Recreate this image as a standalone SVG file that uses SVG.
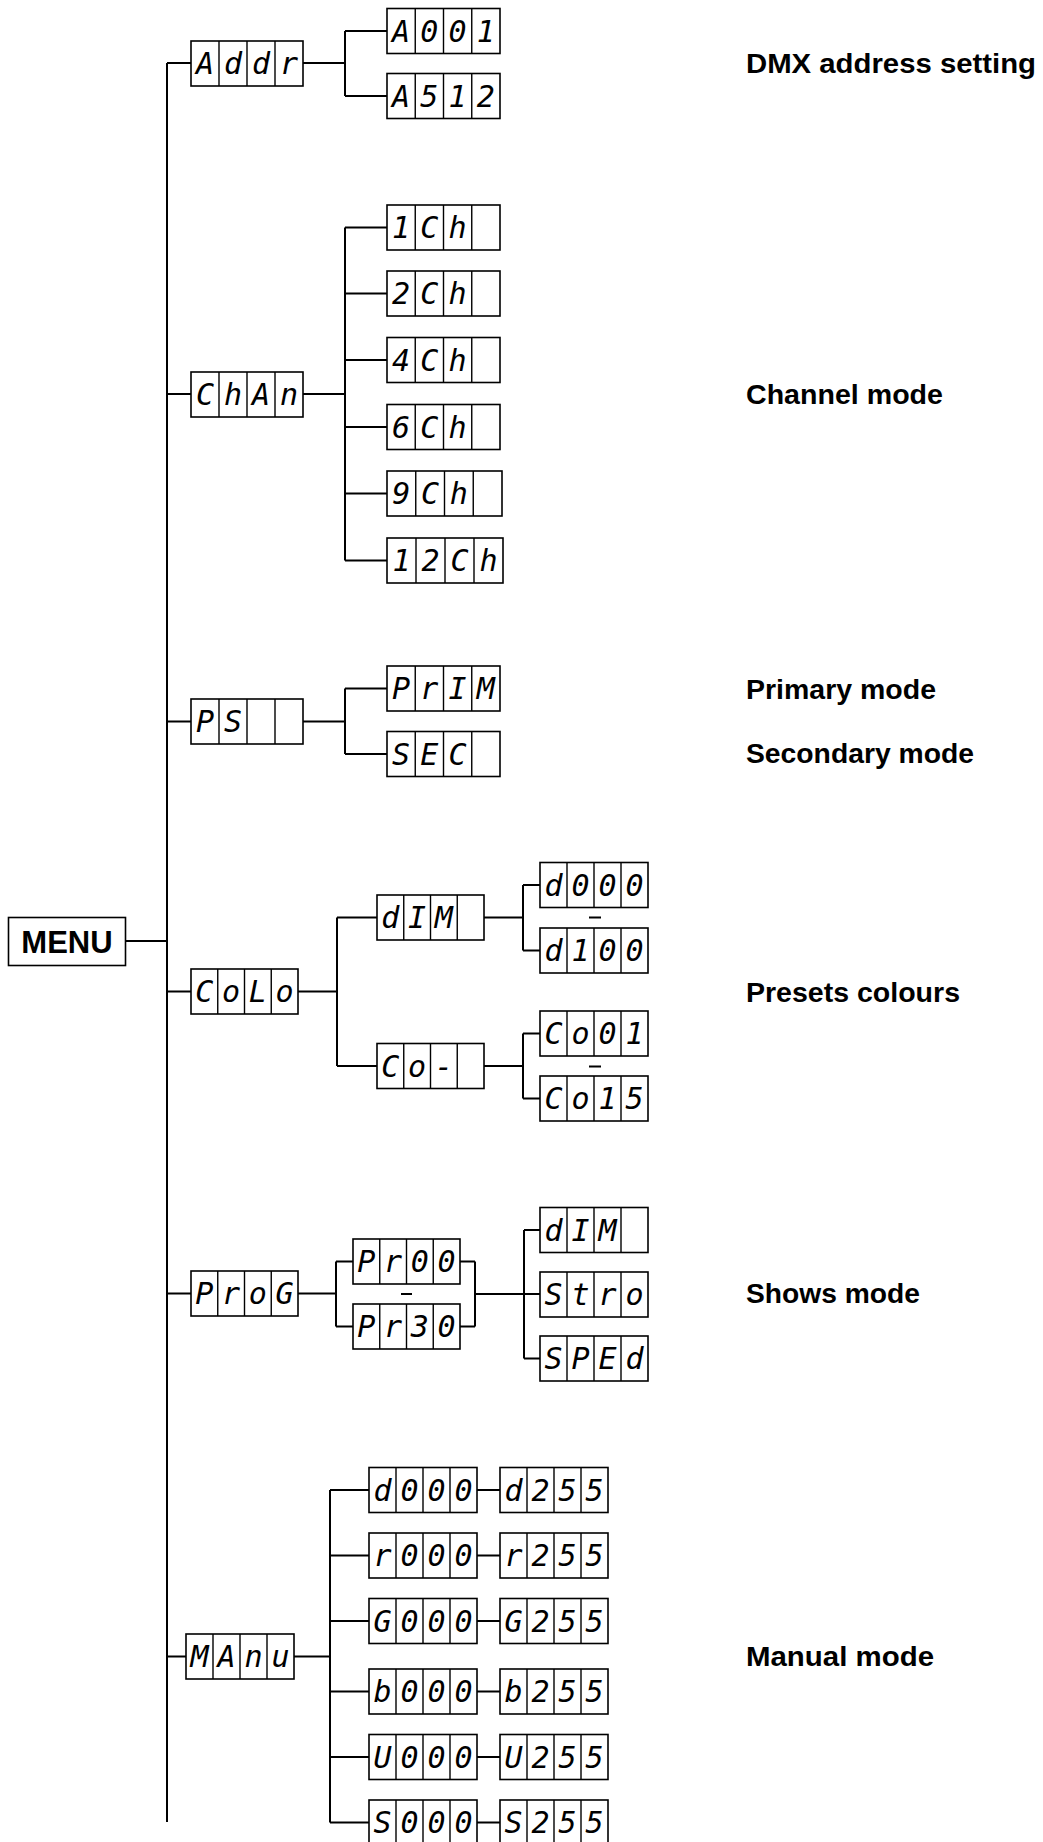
<svg xmlns="http://www.w3.org/2000/svg" width="1043" height="1842" viewBox="0 0 1043 1842">
<style>
.box{fill:#fff;stroke:#000;stroke-width:1.6}
.dv{stroke:#000;stroke-width:1.4;fill:none}
.seg{font-family:"DejaVu Sans Mono","Liberation Mono",monospace;font-style:italic;font-size:30px;text-anchor:middle;fill:#000}
.con{stroke:#000;stroke-width:2;fill:none}
.lbl{font-family:"Liberation Sans",Arial,sans-serif;font-weight:bold;font-size:27px;fill:#000}
.menu{font-family:"Liberation Sans",Arial,sans-serif;font-weight:bold;font-size:31px;text-anchor:middle;fill:#000}
</style>
<rect width="1043" height="1842" fill="#fff"/>
<g id="connectors" class="con">
<path d="M167 63V1822M126 941H167M167 63H191M303 63H345M345 31V96M345 31H387M345 96H387"/>
<path d="M167 394H191M303 394H345M345 227.5V560.5M345 227.5H387M345 293.5H387M345 360H387M345 427H387M345 493.5H387M345 560.5H387"/>
<path d="M167 721.5H191M303 721.5H345M345 688.5V754M345 688.5H387M345 754H387"/>
<path d="M167 991.5H191M298 991.5H337M337 917.5V1066M337 917.5H377M337 1066H377M484 917.5H523M523 885V950.5M523 885H540M523 950.5H540M484 1066H523M523 1033.5V1098.5M523 1033.5H540M523 1098.5H540"/>
<path d="M589 917.5H601M589 1066.5H601M401 1294H412"/>
<path d="M167 1293.5H191M298 1293.5H336M336 1261.5V1326.5M336 1261.5H353M336 1326.5H353M460 1261.5H475M475 1261.5V1326.5M460 1326.5H475M475 1294H540M524 1230V1358.5M524 1230H540M524 1358.5H540"/>
<path d="M167 1656.5H186M294 1656.5H330M330 1490V1822.5M330 1490H369M330 1555.5H369M330 1621H369M330 1691.5H369M330 1757H369M330 1822.5H369M477 1490H500M477 1555.5H500M477 1621H500M477 1691.5H500M477 1757H500M477 1822.5H500"/>
</g>
<g id="menu"><rect class="box" x="8.5" y="917.5" width="117" height="48" stroke-width="2"/><text class="menu" x="67" y="953">MENU</text></g>

<g id="addr"><rect class="box" x="191" y="41" width="112" height="45"/><path class="dv" d="M219 41v45M247 41v45M275 41v45"/><text class="seg" x="205 233 261 289" y="74">Addr</text></g>
<g id="a001"><rect class="box" x="387" y="8.5" width="113" height="45"/><path class="dv" d="M415.25 8.5v45M443.5 8.5v45M471.75 8.5v45"/><text class="seg" x="401.1 429.4 457.6 485.9" y="41.5">A001</text></g>
<g id="a512"><rect class="box" x="387" y="73.5" width="113" height="45"/><path class="dv" d="M415.25 73.5v45M443.5 73.5v45M471.75 73.5v45"/><text class="seg" x="401.1 429.4 457.6 485.9" y="106.5">A512</text></g>

<g id="chan"><rect class="box" x="191" y="372" width="112" height="45"/><path class="dv" d="M219 372v45M247 372v45M275 372v45"/><text class="seg" x="205 233 261 289" y="405">ChAn</text></g>
<g id="ch1"><rect class="box" x="387" y="205" width="113" height="45"/><path class="dv" d="M415.25 205v45M443.5 205v45M471.75 205v45"/><text class="seg" x="401.1 429.4 457.6" y="238">1Ch</text></g>
<g id="ch2"><rect class="box" x="387" y="271" width="113" height="45"/><path class="dv" d="M415.25 271v45M443.5 271v45M471.75 271v45"/><text class="seg" x="401.1 429.4 457.6" y="304">2Ch</text></g>
<g id="ch4"><rect class="box" x="387" y="337.5" width="113" height="45"/><path class="dv" d="M415.25 337.5v45M443.5 337.5v45M471.75 337.5v45"/><text class="seg" x="401.1 429.4 457.6" y="370.5">4Ch</text></g>
<g id="ch6"><rect class="box" x="387" y="404.5" width="113" height="45"/><path class="dv" d="M415.25 404.5v45M443.5 404.5v45M471.75 404.5v45"/><text class="seg" x="401.1 429.4 457.6" y="437.5">6Ch</text></g>
<g id="ch9"><rect class="box" x="387" y="471" width="115" height="45"/><path class="dv" d="M415.75 471v45M444.5 471v45M473.25 471v45"/><text class="seg" x="401.4 430.1 458.9" y="504">9Ch</text></g>
<g id="ch12"><rect class="box" x="387" y="538" width="116" height="45"/><path class="dv" d="M416 538v45M445 538v45M474 538v45"/><text class="seg" x="401.5 430.5 459.5 488.5" y="571">12Ch</text></g>

<g id="ps"><rect class="box" x="191" y="699" width="112" height="45"/><path class="dv" d="M219 699v45M247 699v45M275 699v45"/><text class="seg" x="205 233" y="732">PS</text></g>
<g id="prim"><rect class="box" x="387" y="666" width="113" height="45"/><path class="dv" d="M415.25 666v45M443.5 666v45M471.75 666v45"/><text class="seg" x="401.1 429.4 457.6 485.9" y="699">PrIM</text></g>
<g id="sec"><rect class="box" x="387" y="731.5" width="113" height="45"/><path class="dv" d="M415.25 731.5v45M443.5 731.5v45M471.75 731.5v45"/><text class="seg" x="401.1 429.4 457.6" y="764.5">SEC</text></g>

<g id="colo"><rect class="box" x="191" y="969" width="107" height="45"/><path class="dv" d="M217.75 969v45M244.5 969v45M271.25 969v45"/><text class="seg" x="204.4 231.1 257.9 284.6" y="1002">CoLo</text></g>
<g id="dim"><rect class="box" x="377" y="895" width="107" height="45"/><path class="dv" d="M403.75 895v45M430.5 895v45M457.25 895v45"/><text class="seg" x="390.4 417.1 443.9" y="928">dIM</text></g>
<g id="co"><rect class="box" x="377" y="1043.5" width="107" height="45"/><path class="dv" d="M403.75 1043.5v45M430.5 1043.5v45M457.25 1043.5v45"/><text class="seg" x="390.4 417.1 443.9" y="1076.5">Co-</text></g>
<g id="d000a"><rect class="box" x="540" y="862.5" width="108" height="45"/><path class="dv" d="M567 862.5v45M594 862.5v45M621 862.5v45"/><text class="seg" x="553.5 580.5 607.5 634.5" y="895.5">d000</text></g>
<g id="d100"><rect class="box" x="540" y="928" width="108" height="45"/><path class="dv" d="M567 928v45M594 928v45M621 928v45"/><text class="seg" x="553.5 580.5 607.5 634.5" y="961">d100</text></g>
<g id="co01"><rect class="box" x="540" y="1011" width="108" height="45"/><path class="dv" d="M567 1011v45M594 1011v45M621 1011v45"/><text class="seg" x="553.5 580.5 607.5 634.5" y="1044">Co01</text></g>
<g id="co15"><rect class="box" x="540" y="1076" width="108" height="45"/><path class="dv" d="M567 1076v45M594 1076v45M621 1076v45"/><text class="seg" x="553.5 580.5 607.5 634.5" y="1109">Co15</text></g>

<g id="prog"><rect class="box" x="191" y="1271" width="107" height="45"/><path class="dv" d="M217.75 1271v45M244.5 1271v45M271.25 1271v45"/><text class="seg" x="204.4 231.1 257.9 284.6" y="1304">ProG</text></g>
<g id="pr00"><rect class="box" x="353" y="1239" width="107" height="45"/><path class="dv" d="M379.75 1239v45M406.5 1239v45M433.25 1239v45"/><text class="seg" x="366.4 393.1 419.9 446.6" y="1272">Pr00</text></g>
<g id="pr30"><rect class="box" x="353" y="1304" width="107" height="45"/><path class="dv" d="M379.75 1304v45M406.5 1304v45M433.25 1304v45"/><text class="seg" x="366.4 393.1 419.9 446.6" y="1337">Pr30</text></g>
<g id="dim2"><rect class="box" x="540" y="1207.5" width="108" height="45"/><path class="dv" d="M567 1207.5v45M594 1207.5v45M621 1207.5v45"/><text class="seg" x="553.5 580.5 607.5" y="1240.5">dIM</text></g>
<g id="stro"><rect class="box" x="540" y="1272" width="108" height="45"/><path class="dv" d="M567 1272v45M594 1272v45M621 1272v45"/><text class="seg" x="553.5 580.5 607.5 634.5" y="1305">Stro</text></g>
<g id="sped"><rect class="box" x="540" y="1336" width="108" height="45"/><path class="dv" d="M567 1336v45M594 1336v45M621 1336v45"/><text class="seg" x="553.5 580.5 607.5 634.5" y="1369">SPEd</text></g>

<g id="manu"><rect class="box" x="186" y="1634" width="108" height="45"/><path class="dv" d="M213 1634v45M240 1634v45M267 1634v45"/><text class="seg" x="199.5 226.5 253.5 280.5" y="1667">MAnu</text></g>
<g id="d000"><rect class="box" x="369" y="1467.5" width="108" height="45"/><path class="dv" d="M396 1467.5v45M423 1467.5v45M450 1467.5v45"/><text class="seg" x="382.5 409.5 436.5 463.5" y="1500.5">d000</text></g>
<g id="d255"><rect class="box" x="500" y="1467.5" width="108" height="45"/><path class="dv" d="M527 1467.5v45M554 1467.5v45M581 1467.5v45"/><text class="seg" x="513.5 540.5 567.5 594.5" y="1500.5">d255</text></g>
<g id="r000"><rect class="box" x="369" y="1533" width="108" height="45"/><path class="dv" d="M396 1533v45M423 1533v45M450 1533v45"/><text class="seg" x="382.5 409.5 436.5 463.5" y="1566">r000</text></g>
<g id="r255"><rect class="box" x="500" y="1533" width="108" height="45"/><path class="dv" d="M527 1533v45M554 1533v45M581 1533v45"/><text class="seg" x="513.5 540.5 567.5 594.5" y="1566">r255</text></g>
<g id="g000"><rect class="box" x="369" y="1598.5" width="108" height="45"/><path class="dv" d="M396 1598.5v45M423 1598.5v45M450 1598.5v45"/><text class="seg" x="382.5 409.5 436.5 463.5" y="1631.5">G000</text></g>
<g id="g255"><rect class="box" x="500" y="1598.5" width="108" height="45"/><path class="dv" d="M527 1598.5v45M554 1598.5v45M581 1598.5v45"/><text class="seg" x="513.5 540.5 567.5 594.5" y="1631.5">G255</text></g>
<g id="b000"><rect class="box" x="369" y="1669" width="108" height="45"/><path class="dv" d="M396 1669v45M423 1669v45M450 1669v45"/><text class="seg" x="382.5 409.5 436.5 463.5" y="1702">b000</text></g>
<g id="b255"><rect class="box" x="500" y="1669" width="108" height="45"/><path class="dv" d="M527 1669v45M554 1669v45M581 1669v45"/><text class="seg" x="513.5 540.5 567.5 594.5" y="1702">b255</text></g>
<g id="u000"><rect class="box" x="369" y="1734.5" width="108" height="45"/><path class="dv" d="M396 1734.5v45M423 1734.5v45M450 1734.5v45"/><text class="seg" x="382.5 409.5 436.5 463.5" y="1767.5">U000</text></g>
<g id="u255"><rect class="box" x="500" y="1734.5" width="108" height="45"/><path class="dv" d="M527 1734.5v45M554 1734.5v45M581 1734.5v45"/><text class="seg" x="513.5 540.5 567.5 594.5" y="1767.5">U255</text></g>
<g id="s000"><rect class="box" x="369" y="1800" width="108" height="45"/><path class="dv" d="M396 1800v45M423 1800v45M450 1800v45"/><text class="seg" x="382.5 409.5 436.5 463.5" y="1833">S000</text></g>
<g id="s255"><rect class="box" x="500" y="1800" width="108" height="45"/><path class="dv" d="M527 1800v45M554 1800v45M581 1800v45"/><text class="seg" x="513.5 540.5 567.5 594.5" y="1833">S255</text></g>

<g id="labels">
<text class="lbl" x="746" y="73" textLength="290" lengthAdjust="spacingAndGlyphs">DMX address setting</text>
<text class="lbl" x="746" y="404" textLength="197" lengthAdjust="spacingAndGlyphs">Channel mode</text>
<text class="lbl" x="746" y="699" textLength="190" lengthAdjust="spacingAndGlyphs">Primary mode</text>
<text class="lbl" x="746" y="763" textLength="228" lengthAdjust="spacingAndGlyphs">Secondary mode</text>
<text class="lbl" x="746" y="1002" textLength="214" lengthAdjust="spacingAndGlyphs">Presets colours</text>
<text class="lbl" x="746" y="1303" textLength="174" lengthAdjust="spacingAndGlyphs">Shows mode</text>
<text class="lbl" x="746" y="1666" textLength="188" lengthAdjust="spacingAndGlyphs">Manual mode</text>
</g>
</svg>
